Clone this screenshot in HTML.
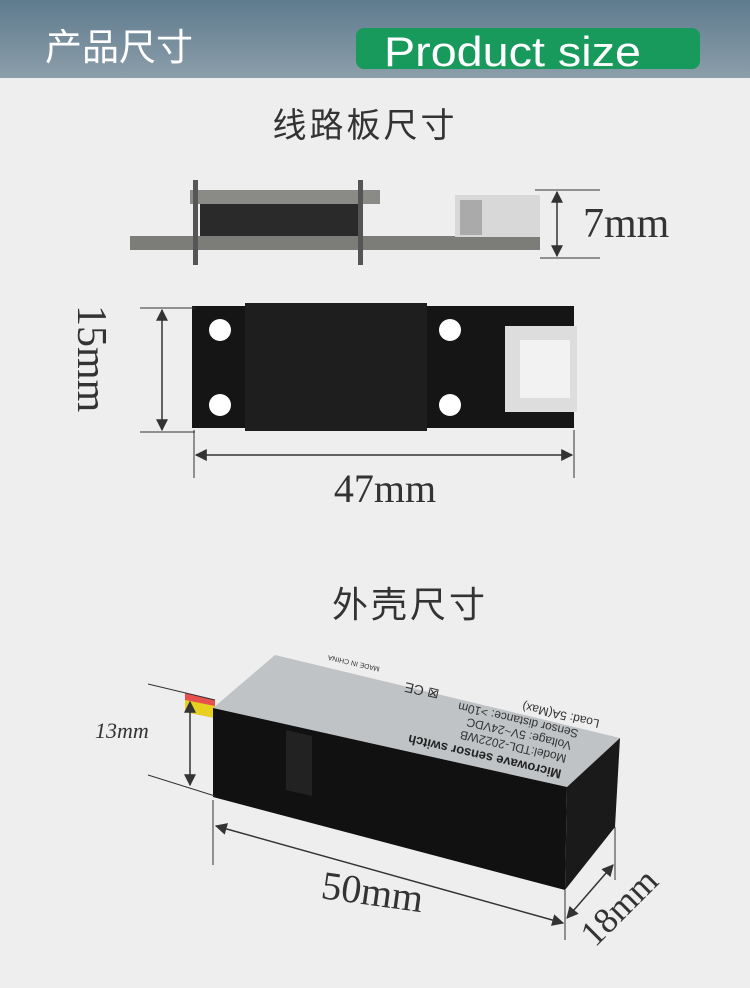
<!DOCTYPE html>
<html><head><meta charset="utf-8"><style>
body{margin:0;width:750px;height:983px;background:#eeeeee;overflow:hidden;font-family:"Liberation Serif","Noto Serif CJK SC",serif}
</style></head><body>
<svg width="750" height="983" viewBox="0 0 750 983" xmlns="http://www.w3.org/2000/svg">
<defs>
<linearGradient id="hd" x1="0" y1="0" x2="0" y2="1"><stop offset="0" stop-color="#5e7b8e"/><stop offset="1" stop-color="#8c9eaa"/></linearGradient>
<marker id="a" viewBox="0 0 10 10" refX="9" refY="5" markerWidth="8" markerHeight="8" orient="auto-start-reverse"><path d="M0,0L10,5L0,10z" fill="#333"/></marker>
</defs>
<rect width="750" height="78" fill="url(#hd)"/>
<text x="45" y="60" font-family="Noto Sans CJK SC,sans-serif" font-size="37" fill="#fff">产品尺寸</text>
<rect x="356" y="28" width="344" height="41" rx="8" fill="#179a5c"/>
<text x="384" y="66" font-family="Liberation Sans,sans-serif" font-size="42" fill="#fff" textLength="257" lengthAdjust="spacingAndGlyphs">Product size</text>

<text x="365" y="137" text-anchor="middle" font-family="Noto Sans CJK SC,sans-serif" font-size="34" fill="#333" letter-spacing="3">线路板尺寸</text>
<rect x="130" y="236" width="410" height="14" fill="#7c7c78"/>
<rect x="190" y="190" width="190" height="14" fill="#8a8a86"/>
<rect x="200" y="204" width="160" height="32" fill="#2a2a2a"/>
<rect x="193" y="180" width="5" height="85" fill="#555"/>
<rect x="358" y="180" width="5" height="85" fill="#555"/>
<rect x="455" y="195" width="85" height="42" fill="#d8d8d8"/>
<rect x="460" y="200" width="22" height="35" fill="#aaa"/>
<line x1="535" y1="190" x2="600" y2="190" stroke="#333"/>
<line x1="540" y1="258" x2="600" y2="258" stroke="#333"/>
<line x1="557" y1="192" x2="557" y2="256" stroke="#333" stroke-width="1.5" marker-start="url(#a)" marker-end="url(#a)"/>
<text x="583" y="237" font-size="42" fill="#333">7mm</text>
<rect x="192" y="306" width="382" height="122" fill="#151515"/>
<rect x="245" y="303" width="182" height="128" fill="#1e1e1e"/>
<circle cx="220" cy="330" r="11" fill="#fff"/><circle cx="220" cy="405" r="11" fill="#fff"/>
<circle cx="450" cy="330" r="11" fill="#fff"/><circle cx="450" cy="405" r="11" fill="#fff"/>
<rect x="505" y="326" width="72" height="86" fill="#ddd"/>
<rect x="520" y="340" width="50" height="58" fill="#f2f2f2"/>
<line x1="140" y1="308" x2="195" y2="308" stroke="#333"/>
<line x1="140" y1="432" x2="195" y2="432" stroke="#333"/>
<line x1="162" y1="310" x2="162" y2="430" stroke="#333" stroke-width="1.5" marker-start="url(#a)" marker-end="url(#a)"/>
<text transform="translate(78,305) rotate(90)" font-size="42" fill="#333">15mm</text>
<line x1="194" y1="430" x2="194" y2="478" stroke="#333"/>
<line x1="574" y1="430" x2="574" y2="478" stroke="#333"/>
<line x1="196" y1="455" x2="572" y2="455" stroke="#333" stroke-width="1.5" marker-start="url(#a)" marker-end="url(#a)"/>
<text x="385" y="502" text-anchor="middle" font-size="40" fill="#333">47mm</text>

<text x="410" y="617" text-anchor="middle" font-family="Noto Sans CJK SC,sans-serif" font-size="36" fill="#333" letter-spacing="3">外壳尺寸</text>
<polygon points="185,693 215,700 215,718 185,712" fill="#e85050"/>
<polygon points="185,700 215,706 215,718 185,712" fill="#e8d020"/>
<polygon points="213,708 275,655 620,738 567,787" fill="#bfc3c5"/>
<polygon points="213,708 567,787 565,890 213,797" fill="#111"/>
<polygon points="567,787 620,738 615,827 565,890" fill="#1a1a1a"/>
<polygon points="286,730 312,736 312,796 286,790" fill="#222"/>
<text transform="translate(562,770) rotate(193)" font-family="Liberation Sans,sans-serif" font-size="13" font-weight="bold" fill="#222">Microwave sensor switch</text>
<text transform="translate(567,755) rotate(193)" font-family="Liberation Sans,sans-serif" font-size="12" fill="#333">Model:TDL-2022WB</text>
<text transform="translate(572,742) rotate(193)" font-family="Liberation Sans,sans-serif" font-size="12" fill="#333">Voltage: 5V~24VDC</text>
<text transform="translate(579,730) rotate(193)" font-family="Liberation Sans,sans-serif" font-size="12" fill="#333">Sensor distance: &gt;10m</text>
<text transform="translate(600,720) rotate(193)" font-family="Liberation Sans,sans-serif" font-size="12" fill="#333">Load: 5A(Max)</text>
<text transform="translate(440,690) rotate(193)" font-family="Liberation Sans,sans-serif" font-size="14" fill="#333">⊠ CE</text>
<text transform="translate(380,667) rotate(193)" font-family="Liberation Sans,sans-serif" font-size="7" fill="#333">MADE IN CHINA</text>
<line x1="148" y1="684" x2="215" y2="700" stroke="#333"/>
<line x1="148" y1="775" x2="215" y2="796" stroke="#333"/>
<line x1="190" y1="702" x2="190" y2="785" stroke="#333" stroke-width="1.5" marker-start="url(#a)" marker-end="url(#a)"/>
<text x="95" y="738" font-size="22" font-style="italic" fill="#333">13mm</text>
<line x1="213" y1="800" x2="213" y2="865" stroke="#333"/>
<line x1="565" y1="890" x2="565" y2="940" stroke="#333"/>
<line x1="615" y1="827" x2="615" y2="880" stroke="#333"/>
<line x1="216" y1="826" x2="563" y2="923" stroke="#333" stroke-width="1.5" marker-start="url(#a)" marker-end="url(#a)"/>
<line x1="567" y1="918" x2="613" y2="865" stroke="#333" stroke-width="1.5" marker-start="url(#a)" marker-end="url(#a)"/>
<text transform="translate(320,898) rotate(8)" font-size="40" fill="#333">50mm</text>
<text transform="translate(595,948) rotate(-45)" font-size="36" fill="#333">18mm</text>
</svg>
</body></html>
